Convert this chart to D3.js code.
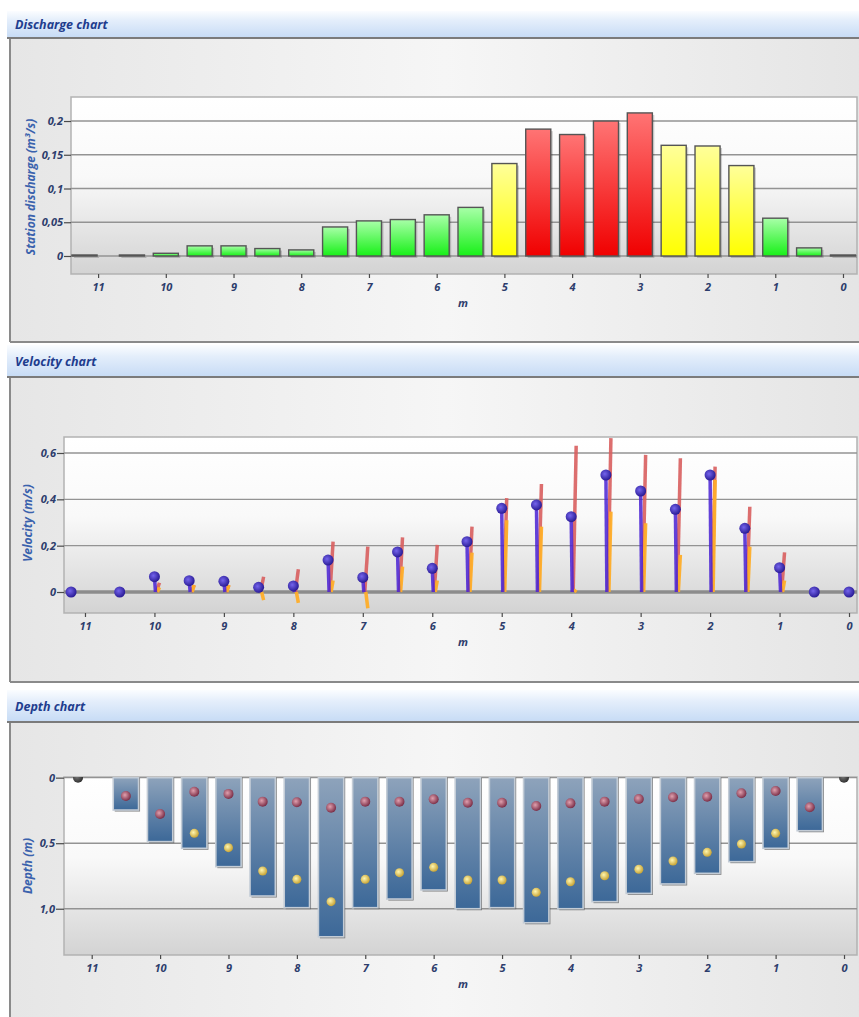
<!DOCTYPE html>
<html>
<head>
<meta charset="utf-8">
<script src="https://cdn.jsdelivr.net/npm/d3@7"></script>
<style>
body { margin: 0; background: #fff; }
svg { display: block; font-family: "Open Sans", sans-serif; }
</style>
</head>
<body>
<svg width="859" height="1017"></svg>
<script>
// stations along the section (m from the right bank)
var stations = [11.2, 10.5, 10, 9.5, 9, 8.5, 8, 7.5, 7, 6.5, 6, 5.5, 5, 4.5, 4, 3.5, 3, 2.5, 2, 1.5, 1, 0.5, 0]

var discharge = [0, 0, 0.004, 0.015, 0.015, 0.011, 0.009, 0.043, 0.052, 0.054, 0.061, 0.072,
  0.137, 0.188, 0.18, 0.2, 0.212, 0.164, 0.163, 0.134, 0.056, 0.012, 0]

var velocityMean = [0, 0, 0.066, 0.049, 0.046, 0.02, 0.026, 0.138, 0.063, 0.173, 0.102, 0.217,
  0.361, 0.376, 0.325, 0.505, 0.436, 0.357, 0.505, 0.275, 0.105, 0, 0]
var velocityMax = [null, null, 0.04, 0.03, 0.03, 0.066, 0.098, 0.217, 0.196, 0.236, 0.203, 0.282,
  0.405, 0.466, 0.631, 0.664, 0.592, 0.577, 0.541, 0.368, 0.171, null, null]
var velocityBottom = [null, null, 0.02, 0.03, 0.03, -0.035, -0.047, 0.05, -0.07, 0.11, 0.05, 0.17,
  0.31, 0.282, 0.01, 0.347, 0.297, 0.16, 0.484, 0.196, 0.05, null, null]

var depth = [0, 0.247, 0.488, 0.539, 0.679, 0.903, 0.992, 1.214, 0.992, 0.926, 0.857, 1.0,
  0.992, 1.107, 1.0, 0.946, 0.883, 0.811, 0.73, 0.641, 0.539, 0.405, 0]
var pointUpper = [0, 0.14, 0.277, 0.107, 0.124, 0.183, 0.188, 0.229, 0.183, 0.183, 0.165, 0.191,
  0.191, 0.216, 0.196, 0.183, 0.163, 0.15, 0.145, 0.119, 0.102, 0.226, 0]
var pointLower = [null, null, null, 0.425, 0.534, 0.712, 0.776, 0.946, 0.776, 0.725, 0.684, 0.781,
  0.781, 0.875, 0.794, 0.748, 0.699, 0.636, 0.57, 0.506, 0.425, null, null]

var xTicks = [11, 10, 9, 8, 7, 6, 5, 4, 3, 2, 1, 0]
var dischargeTicks = [0, 0.05, 0.1, 0.15, 0.2]
var dischargeTickLabels = ['0', '0,05', '0,1', '0,15', '0,2']
var velocityTicks = [0, 0.2, 0.4, 0.6]
var velocityTickLabels = ['0', '0,2', '0,4', '0,6']
var depthTicks = [0, 0.5, 1]
var depthTickLabels = ['0', '0,5', '1,0']
var dischargeLimits = [0.1, 0.17]

var svg = d3.select('svg')
var defs = svg.append('defs')

function linear(id, stops, horizontal) {
  var g = defs.append('linearGradient').attr('id', id)
    .attr('x1', 0).attr('y1', 0)
    .attr('x2', horizontal ? 1 : 0).attr('y2', horizontal ? 0 : 1)
  stops.forEach(function (s) {
    g.append('stop').attr('offset', s[0]).attr('stop-color', s[1])
  })
}
function radial(id, inner, outer) {
  var g = defs.append('radialGradient').attr('id', id)
    .attr('cx', 0.4).attr('cy', 0.4).attr('r', 0.6)
  g.append('stop').attr('offset', 0).attr('stop-color', inner)
  g.append('stop').attr('offset', 1).attr('stop-color', outer)
}

linear('header', [[0, '#fbfdff'], [0.35, '#e4eefb'], [1, '#c6dbf5']])
linear('body', [[0, '#e6e6e6'], [0.5, '#f6f6f6'], [1, '#e4e4e4']], true)
linear('plotBg', [[0, '#ffffff'], [0.45, '#f9f9f9'], [1, '#d3d3d3']])
linear('green', [[0, '#a8ffa8'], [1, '#18f018']])
linear('yellow', [[0, '#ffff9a'], [1, '#ffff00']])
linear('red', [[0, '#ff7474'], [1, '#f00000']])
linear('column', [[0, '#8ea3bb'], [1, '#3c6898']])
radial('velDot', '#7464ec', '#2a1c96')
radial('redDot', '#e0a0ae', '#7c3049')
radial('yelDot', '#fff6b0', '#c9a536')
radial('edgeDot', '#777', '#333')

var panels = [
  {title: 'Discharge chart', top: 11, head: 27, bottom: 342},
  {title: 'Velocity chart', top: 345, head: 32, bottom: 682},
  {title: 'Depth chart', top: 690, head: 32, bottom: 1040}
]

panels.forEach(function (p) {
  var bodyTop = p.top + p.head + 1
  svg.append('rect').attr('x', 7).attr('y', p.top).attr('width', 870).attr('height', p.head)
    .attr('fill', 'url(#header)')
  svg.append('rect').attr('x', 10).attr('y', bodyTop).attr('width', 870).attr('height', p.bottom - bodyTop)
    .attr('fill', 'url(#body)')
  svg.append('line').attr('x1', 7).attr('x2', 870).attr('y1', p.top + p.head).attr('y2', p.top + p.head)
    .attr('stroke', '#7b7b7b').attr('stroke-width', 2)
  svg.append('line').attr('x1', 10).attr('x2', 10).attr('y1', bodyTop).attr('y2', p.bottom)
    .attr('stroke', '#8a8a8a').attr('stroke-width', 2)
  svg.append('line').attr('x1', 10).attr('x2', 870).attr('y1', p.bottom).attr('y2', p.bottom)
    .attr('stroke', '#8a8a8a').attr('stroke-width', 2)
  svg.append('text').attr('x', 15).attr('y', p.top + p.head / 2 + 4.5)
    .attr('font-size', 12.5).attr('font-weight', 'bold').attr('font-style', 'italic')
    .attr('fill', '#1f3d8e').text(p.title)
})

function makePlot(c) {
  var x = d3.scaleLinear().domain(c.xDomain).range([c.left, c.right])
  var y = d3.scaleLinear().domain(c.yDomain).range([c.bottom, c.top])
  var id = 'clip' + c.top
  defs.append('clipPath').attr('id', id).append('rect')
    .attr('x', c.left).attr('y', c.top).attr('width', c.right - c.left).attr('height', c.bottom - c.top)

  svg.append('rect').attr('x', c.left).attr('y', c.top)
    .attr('width', c.right - c.left).attr('height', c.bottom - c.top)
    .attr('fill', 'url(#plotBg)').attr('stroke', '#b2b2b2').attr('stroke-width', 1.5)

  svg.append('g').selectAll('line').data(c.yTicks).enter().append('line')
    .attr('x1', c.left).attr('x2', c.right)
    .attr('y1', function (d) { return y(d) }).attr('y2', function (d) { return y(d) })
    .attr('stroke', function (d) { return d === 0 && c.zeroBold ? '#8c8c8c' : '#939393' })
    .attr('stroke-width', function (d) { return d === 0 && c.zeroBold ? 3.5 : 1.4 })

  var ax = svg.append('g').attr('transform', 'translate(0,' + c.bottom + ')')
    .call(d3.axisBottom(x).tickValues(xTicks).tickSize(4).tickPadding(5).tickFormat(d3.format('d')))
  var ay = svg.append('g').attr('transform', 'translate(' + c.left + ',0)')
    .call(d3.axisLeft(y).tickValues(c.yTicks).tickSize(c.tickSize).tickPadding(1)
      .tickFormat(function (d, i) { return c.yLabels[i] }))
  ;[ax, ay].forEach(function (a) {
    a.select('.domain').remove()
    a.selectAll('line').attr('stroke', '#4a4a4a').attr('stroke-width', 1.2)
    a.selectAll('text').attr('font-size', 11).attr('font-weight', 'bold')
      .attr('font-style', 'italic').attr('fill', '#2d3d6c').attr('font-family', '"Open Sans", sans-serif')
  })

  svg.append('text').attr('x', 463).attr('y', c.bottom + 33).attr('text-anchor', 'middle')
    .attr('font-size', 11).attr('font-weight', 'bold').attr('font-style', 'italic')
    .attr('fill', '#2d3d6c').text('m')

  svg.append('text')
    .attr('transform', 'translate(' + c.yTitleX + ',' + c.yTitleY + ') rotate(-90)')
    .attr('text-anchor', 'middle').attr('font-size', 12).attr('font-weight', 'bold')
    .attr('font-style', 'italic').attr('fill', '#3a62ad').text(c.yTitle)

  var g = svg.append('g').attr('clip-path', 'url(#' + id + ')')
  return {x: x, y: y, g: g}
}

// ---- discharge chart
var p1 = makePlot({left: 71, right: 857, top: 97, bottom: 274,
  xDomain: [11.4, -0.207], yDomain: [-0.0267, 0.2356],
  yTicks: dischargeTicks, yLabels: dischargeTickLabels, tickSize: 7,
  yTitle: 'Station discharge (m³/s)', yTitleX: 35, yTitleY: 187})

var colour = d3.scaleThreshold().domain(dischargeLimits).range(['url(#green)', 'url(#yellow)', 'url(#red)'])
var bw1 = Math.abs(p1.x(0) - p1.x(0.37))
var qData = stations.map(function (s, i) { return {s: s, v: discharge[i]} })
function barH(d) { return Math.max(p1.y(0) - p1.y(d.v), 1) }

p1.g.selectAll('.shadow').data(qData).enter().append('rect')
  .attr('x', function (d) { return p1.x(d.s) - bw1 / 2 + 2 })
  .attr('y', function (d) { return p1.y(0) - barH(d) + 2 })
  .attr('width', bw1).attr('height', barH)
  .attr('fill', '#000').attr('opacity', 0.18)
p1.g.selectAll('.bar').data(qData).enter().append('rect')
  .attr('x', function (d) { return p1.x(d.s) - bw1 / 2 })
  .attr('y', function (d) { return p1.y(0) - barH(d) })
  .attr('width', bw1).attr('height', barH)
  .attr('fill', function (d) { return colour(d.v) })
  .attr('stroke', '#555').attr('stroke-width', 1.4)

// ---- velocity chart
var p2 = makePlot({left: 64, right: 857, top: 437, bottom: 613,
  xDomain: [11.302, -0.115], yDomain: [-0.0906, 0.669],
  yTicks: velocityTicks, yLabels: velocityTickLabels, tickSize: 7, zeroBold: true,
  yTitle: 'Velocity (m/s)', yTitleX: 32, yTitleY: 523})

var vData = stations.map(function (s, i) {
  return {s: s, mean: velocityMean[i], max: velocityMax[i], bot: velocityBottom[i]}
})
p2.g.selectAll('.vmax').data(vData.filter(function (d) { return d.max !== null })).enter().append('line')
  .attr('x1', function (d) { return p2.x(d.s) + 2 }).attr('y1', p2.y(0))
  .attr('x2', function (d) { return p2.x(d.s) + 5 }).attr('y2', function (d) { return p2.y(d.max) })
  .attr('stroke', '#d95f5f').attr('stroke-width', 3.5).attr('opacity', 0.9)
p2.g.selectAll('.vbot').data(vData.filter(function (d) { return d.bot !== null })).enter().append('line')
  .attr('x1', function (d) { return p2.x(d.s) + 3 }).attr('y1', p2.y(0))
  .attr('x2', function (d) { return p2.x(d.s) + 5 }).attr('y2', function (d) { return p2.y(d.bot) })
  .attr('stroke', '#ffae2a').attr('stroke-width', 3.5).attr('opacity', 0.95)
p2.g.selectAll('.vstem').data(vData).enter().append('line')
  .attr('x1', function (d) { return p2.x(d.s) + 1 }).attr('y1', p2.y(0))
  .attr('x2', function (d) { return p2.x(d.s) }).attr('y2', function (d) { return p2.y(d.mean) })
  .attr('stroke', '#4a22d4').attr('stroke-width', 3.5).attr('opacity', 0.85)
p2.g.selectAll('.vdot').data(vData).enter().append('circle')
  .attr('cx', function (d) { return p2.x(d.s) }).attr('cy', function (d) { return p2.y(d.mean) })
  .attr('r', 5.5).attr('fill', 'url(#velDot)')

// ---- depth chart
var p3 = makePlot({left: 64, right: 857, top: 777, bottom: 955,
  xDomain: [11.405, -0.19], yDomain: [1.353, -0.005],
  yTicks: depthTicks, yLabels: depthTickLabels, tickSize: 8,
  yTitle: 'Depth (m)', yTitleX: 32, yTitleY: 866})

var bw3 = Math.abs(p3.x(0) - p3.x(0.37))
var dData = stations.map(function (s, i) {
  return {s: s, d: depth[i], up: pointUpper[i], low: pointLower[i]}
})
var cols = dData.filter(function (d) { return d.d > 0 })
p3.g.selectAll('.cshadow').data(cols).enter().append('rect')
  .attr('x', function (d) { return p3.x(d.s) - bw3 / 2 + 1.5 })
  .attr('y', p3.y(0))
  .attr('width', bw3).attr('height', function (d) { return p3.y(d.d) - p3.y(0) + 1.5 })
  .attr('fill', '#4d4d4d').attr('opacity', 0.7)
p3.g.selectAll('.col').data(cols).enter().append('rect')
  .attr('x', function (d) { return p3.x(d.s) - bw3 / 2 })
  .attr('y', p3.y(0))
  .attr('width', bw3).attr('height', function (d) { return p3.y(d.d) - p3.y(0) })
  .attr('fill', 'url(#column)').attr('stroke', '#c3ccd6').attr('stroke-width', 1.6)
p3.g.selectAll('.up').data(dData).enter().append('circle')
  .attr('cx', function (d) { return p3.x(d.s) }).attr('cy', function (d) { return p3.y(d.up) })
  .attr('r', 5).attr('fill', function (d) { return d.d > 0 ? 'url(#redDot)' : 'url(#edgeDot)' })
p3.g.selectAll('.low').data(dData.filter(function (d) { return d.low !== null })).enter().append('circle')
  .attr('cx', function (d) { return p3.x(d.s) }).attr('cy', function (d) { return p3.y(d.low) })
  .attr('r', 4.5).attr('fill', 'url(#yelDot)')
</script>
</body>
</html>
